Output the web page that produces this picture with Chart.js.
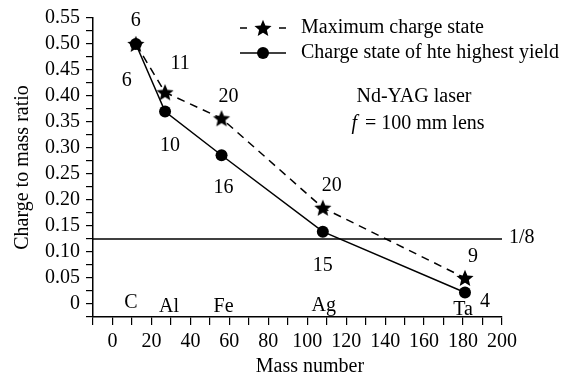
<!DOCTYPE html>
<html><head><meta charset="utf-8">
<script src="https://cdn.jsdelivr.net/npm/chart.js@4"></script>
<style>html,body{margin:0;padding:0;background:#fff}#wrap{width:570px;height:382px}</style>
</head><body><div id="wrap"><canvas id="c" width="570" height="382"></canvas></div>
<script>
// ---- data ----
const elements = ['C', 'Al', 'Fe', 'Ag', 'Ta'];
const massNumbers = [12, 27, 56, 108, 181];
const maxChargeState = [6, 11, 20, 20, 9];
const yieldChargeState = [6, 10, 16, 15, 4];
const maxRatio = [0.500, 0.407, 0.357, 0.185, 0.050];
const yieldRatio = [0.500, 0.370, 0.286, 0.139, 0.022];
const refLineValue = 0.125;
const refLineLabel = '1/8';
const seriesNames = ['Maximum charge state', 'Charge state of hte highest yield'];
const noteLines = ['Nd-YAG laser', '= 100 mm lens'];
const xTitle = 'Mass number';
const yTitle = 'Charge to mass ratio';
const xRange = [-10, 200];
const yRange = [-0.025, 0.55];

const FONT = '"Liberation Serif", "Times New Roman", serif';
const FS = 20;

function makeStar(r) {
  const s = Math.ceil(r * 2 + 2);
  const cv = document.createElement('canvas');
  cv.width = s; cv.height = s;
  const g = cv.getContext('2d');
  g.fillStyle = '#000';
  g.beginPath();
  const ir = r * 0.45;
  for (let i = 0; i < 10; i++) {
    const rad = i % 2 === 0 ? r : ir;
    const a = -Math.PI / 2 + i * Math.PI / 5;
    const px = s / 2 + rad * Math.cos(a), py = s / 2 + rad * Math.sin(a) + r * 0.08;
    if (i === 0) g.moveTo(px, py); else g.lineTo(px, py);
  }
  g.closePath(); g.fill();
  return cv;
}
const starImg = makeStar(9);

const annot = {
  id: 'annot',
  afterDatasetsDraw(chart) {
    const ctx = chart.ctx, xs = chart.scales.x, ys = chart.scales.y;
    ctx.save();
    ctx.fillStyle = '#000';
    ctx.font = FS + 'px ' + FONT;
    ctx.textAlign = 'center';
    ctx.textBaseline = 'middle';
    const maxOff = [[0, -23], [15, -29], [7, -22], [9, -22], [8, -21]];
    const yOff = [[-9, 37], [5, 34], [2, 32], [0, 34], [20, 9]];
    const elOff = [[-5, -1], [4, 3], [2, 3], [1, 2], [-2, 6]];
    for (let i = 0; i < elements.length; i++) {
      const px = xs.getPixelForValue(massNumbers[i]);
      const pm = ys.getPixelForValue(maxRatio[i]);
      const py = ys.getPixelForValue(yieldRatio[i]);
      ctx.fillText(String(maxChargeState[i]), px + maxOff[i][0], pm + maxOff[i][1]);
      ctx.fillText(String(yieldChargeState[i]), px + yOff[i][0], py + yOff[i][1]);
      ctx.fillText(elements[i], px + elOff[i][0], ys.getPixelForValue(0) + elOff[i][1]);
    }
    // 1/8 label
    ctx.textAlign = 'left';
    ctx.fillText(refLineLabel, xs.getPixelForValue(xRange[1]) + 7, ys.getPixelForValue(refLineValue) - 1);

    // x title
    ctx.textAlign = 'center';
    ctx.fillText(xTitle, 310, 367);

    // legend
    const lx0 = 240, lx1 = 286, lt = 301;
    const rows = [28, 53];
    ctx.lineWidth = 1.5;
    ctx.strokeStyle = '#000';
    ctx.setLineDash([7, 6]);
    ctx.beginPath(); ctx.moveTo(lx0, rows[0]); ctx.lineTo(lx1, rows[0]); ctx.stroke();
    ctx.setLineDash([]);
    ctx.fillStyle = '#fff';
    ctx.fillRect((lx0 + lx1) / 2 - 10, rows[0] - 10, 20, 20);
    ctx.fillStyle = '#000';
    ctx.drawImage(starImg, (lx0 + lx1) / 2 - starImg.width / 2, rows[0] - starImg.height / 2);
    ctx.beginPath(); ctx.moveTo(lx0, rows[1]); ctx.lineTo(lx1, rows[1]); ctx.stroke();
    ctx.beginPath(); ctx.arc((lx0 + lx1) / 2, rows[1], 6, 0, Math.PI * 2); ctx.fill();
    ctx.textAlign = 'left';
    ctx.fillText(seriesNames[0], lt, rows[0]);
    ctx.fillText(seriesNames[1], lt, rows[1]);

    // note
    ctx.textAlign = 'center';
    ctx.fillText(noteLines[0], 414, 97);
    ctx.font = 'italic ' + FS + 'px ' + FONT;
    const fw = ctx.measureText('f').width;
    ctx.font = FS + 'px ' + FONT;
    const rest = ' ' + noteLines[1];
    const rw = ctx.measureText(rest).width;
    const startX = 418 - (fw + rw + 3) / 2;
    ctx.textAlign = 'left';
    ctx.font = 'italic ' + FS + 'px ' + FONT;
    ctx.fillText('f', startX, 124);
    ctx.font = FS + 'px ' + FONT;
    ctx.fillText(rest, startX + fw + 3, 124);
    ctx.restore();
  }
};

new Chart(document.getElementById('c'), {
  type: 'scatter',
  data: {
    datasets: [
      {
        label: seriesNames[0],
        data: massNumbers.map((m, i) => ({ x: m, y: maxRatio[i] })),
        showLine: true, borderColor: '#000', borderWidth: 1.5, borderDash: [8, 6],
        pointStyle: starImg, pointRadius: 9, backgroundColor: '#000'
      },
      {
        label: seriesNames[1],
        data: massNumbers.map((m, i) => ({ x: m, y: yieldRatio[i] })),
        showLine: true, borderColor: '#000', borderWidth: 1.5,
        pointStyle: 'circle', pointRadius: 6, backgroundColor: '#000', pointBorderWidth: 0
      },
      {
        label: refLineLabel,
        data: [{ x: xRange[0], y: refLineValue }, { x: xRange[1], y: refLineValue }],
        showLine: true, borderColor: '#000', borderWidth: 1.5, pointRadius: 0
      }
    ]
  },
  options: {
    responsive: false, animation: false,
    layout: { padding: { top: 17, right: 68, left: 0, bottom: 0 } },
    plugins: { legend: { display: false }, tooltip: { enabled: false } },
    scales: {
      x: {
        type: 'linear', min: xRange[0], max: xRange[1],
        afterFit: s => { s.height = 65; },
        border: { display: true, color: '#000', width: 1.5 },
        grid: { drawOnChartArea: false, drawTicks: true, tickLength: 8, color: '#000', lineWidth: 1.2 },
        ticks: {
          stepSize: 10, autoSkip: false, maxRotation: 0, color: '#000', padding: 5,
          font: { family: FONT, size: FS },
          callback: v => (Math.round(v) % 20 === 0 ? String(Math.round(v)) : '')
        },
        title: { display: false }
      },
      y: {
        type: 'linear', min: yRange[0], max: yRange[1],
        afterFit: s => { s.width = 93; },
        border: { display: true, color: '#000', width: 1.5 },
        grid: { drawOnChartArea: false, drawTicks: true, tickLength: 7, color: '#000', lineWidth: 1.2 },
        ticks: {
          stepSize: 0.025, autoSkip: false, color: '#000', padding: 6,
          font: { family: FONT, size: FS },
          callback: v => {
            const k = Math.round(v * 1000);
            if (k % 50 !== 0) return '';
            return k === 0 ? '0' : (k / 1000).toFixed(2);
          }
        },
        title: { display: true, text: yTitle, color: '#000', font: { family: FONT, size: FS }, padding: { top: 11, bottom: 0 } }
      }
    }
  },
  plugins: [annot]
});
</script></body></html>
